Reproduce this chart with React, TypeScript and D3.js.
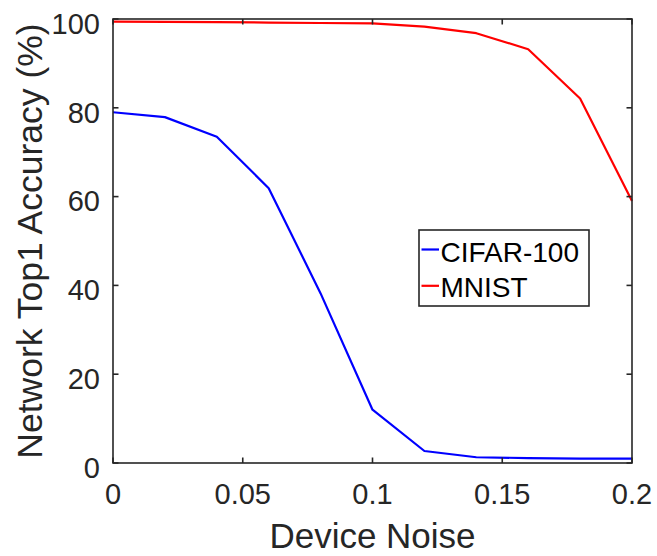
import React from "react";
import * as d3 from "d3";

const noise = [0, 0.02, 0.04, 0.06, 0.08, 0.1, 0.12, 0.14, 0.16, 0.18, 0.2];
const cifar = [79.0, 77.9, 73.5, 61.9, 38.2, 12.0, 2.7, 1.3, 1.1, 1.0, 1.0];
const mnist = [99.4, 99.35, 99.3, 99.2, 99.1, 99.0, 98.3, 96.8, 93.2, 82.1, 59.0];
const xTicks = [0, 0.05, 0.1, 0.15, 0.2];
const xTickLabels = ["0", "0.05", "0.1", "0.15", "0.2"];
const yTicks = [0, 20, 40, 60, 80, 100];
const seriesNames = ["CIFAR-100", "MNIST"];
const seriesColors = ["#0000ff", "#ff0000"];

const W = 657;
const H = 556;
const L = 113, R = 632, T = 19, B = 463;
const TXT = "#262626";
const FONT = "'Liberation Sans', Arial, Helvetica, sans-serif";

export default function App() {
  const x = d3.scaleLinear().domain([0, 0.2]).range([L, R]);
  const y = d3.scaleLinear().domain([0, 100]).range([B, T]);
  const line = d3
    .line<number>()
    .x((_, i) => x(noise[i]))
    .y((d) => y(d));
  const series = [cifar, mnist];
  const tl = 5.5;

  return (
    <div style={{ position: "absolute", left: 0, top: 0 }}>
      <svg width={W} height={H} style={{ display: "block", background: "#fff" }}>
        <rect x={0} y={0} width={W} height={H} fill="#fff" />
        {series.map((s, k) => (
          <path key={k} d={line(s) || ""} fill="none" stroke={seriesColors[k]} strokeWidth={2.2} strokeLinejoin="round" />
        ))}
        <rect x={L} y={T} width={R - L} height={B - T} fill="none" stroke={TXT} strokeWidth={1.6} />
        {xTicks.map((t, i) => (
          <g key={"x" + i}>
            <line x1={x(t)} x2={x(t)} y1={B} y2={B - tl} stroke={TXT} strokeWidth={1.6} />
            <line x1={x(t)} x2={x(t)} y1={T} y2={T + tl} stroke={TXT} strokeWidth={1.6} />
            <text x={x(t)} y={B + 41} textAnchor="middle" fontFamily={FONT} fontSize={29} fill={TXT}>
              {xTickLabels[i]}
            </text>
          </g>
        ))}
        {yTicks.map((t, i) => (
          <g key={"y" + i}>
            <line x1={L} x2={L + tl} y1={y(t)} y2={y(t)} stroke={TXT} strokeWidth={1.6} />
            <line x1={R} x2={R - tl} y1={y(t)} y2={y(t)} stroke={TXT} strokeWidth={1.6} />
            <text x={100} y={y(t) + 14.7} textAnchor="end" fontFamily={FONT} fontSize={29} fill={TXT}>
              {t}
            </text>
          </g>
        ))}
        <text x={(L + R) / 2} y={548} textAnchor="middle" fontFamily={FONT} fontSize={35} fill={TXT}>
          Device Noise
        </text>
        <text
          transform={`translate(42, ${(T + B) / 2}) rotate(-90)`}
          textAnchor="middle"
          fontFamily={FONT}
          fontSize={35.5}
          fill={TXT}
        >
          Network Top1 Accuracy (%)
        </text>
        <g>
          <rect x={419} y={230} width={170} height={76} fill="#fff" stroke={TXT} strokeWidth={1.6} />
          {seriesNames.map((n, k) => (
            <g key={n}>
              <line x1={421.5} x2={439} y1={249.5 + k * 36.3} y2={249.5 + k * 36.3} stroke={seriesColors[k]} strokeWidth={2.2} />
              <text x={440.5} y={261.7 + k * 35} fontFamily={FONT} fontSize={28} fill="#000">
                {n}
              </text>
            </g>
          ))}
        </g>
      </svg>
    </div>
  );
}
